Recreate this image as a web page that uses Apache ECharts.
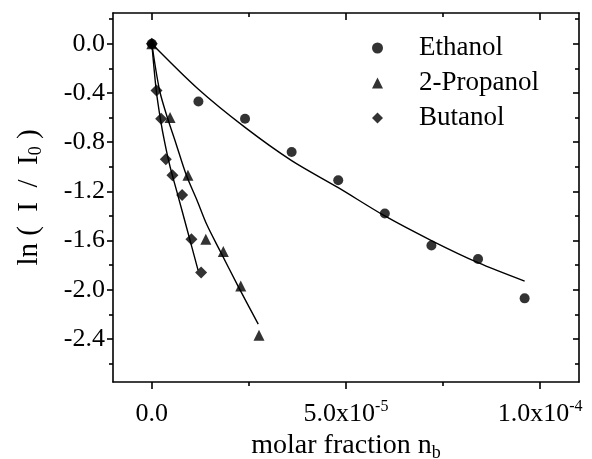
<!DOCTYPE html>
<html><head><meta charset="utf-8">
<script src="https://cdn.jsdelivr.net/npm/echarts@6/dist/echarts.min.js"></script>
<style>html,body{margin:0;padding:0;background:#fff}#c{width:592px;height:459px}</style>
</head><body><div id="c"></div>
<script>
// Measured points
const ethanolX = [0, 1.2e-5, 2.4e-5, 3.6e-5, 4.8e-5, 6.0e-5, 7.2e-5, 8.4e-5, 9.6e-5];
const ethanolY = [0, -0.47, -0.61, -0.88, -1.11, -1.38, -1.64, -1.75, -2.07];
const propanolX = [0, 4.7e-6, 9.3e-6, 1.39e-5, 1.84e-5, 2.29e-5, 2.76e-5];
const propanolY = [0, -0.60, -1.07, -1.59, -1.69, -1.97, -2.37];
const butanolX = [0, 1.2e-6, 2.4e-6, 3.6e-6, 5.3e-6, 7.8e-6, 1.02e-5, 1.27e-5];
const butanolY = [0, -0.38, -0.61, -0.94, -1.07, -1.23, -1.59, -1.86];
// Fit curves
const ethanolFitX = [0, 1.2e-5, 2.4e-5, 3.6e-5, 4.8e-5, 6.0e-5, 7.2e-5, 8.4e-5, 9.6e-5];
const ethanolFitY = [0, -0.37, -0.68, -0.95, -1.17, -1.40, -1.60, -1.78, -1.93];
const propanolFitX = [0, 2.0e-6, 4.1e-6, 5.9e-6, 8.9e-6, 1.16e-5, 1.415e-5, 1.75e-5, 2.22e-5, 2.74e-5];
const propanolFitY = [0, -0.38, -0.61, -0.78, -1.07, -1.27, -1.47, -1.68, -1.97, -2.28];
const butanolFitX = [0, 1.14e-6, 2.2e-6, 3.3e-6, 4.7e-6, 6.6e-6, 9.0e-6, 1.19e-5];
const butanolFitY = [0, -0.38, -0.61, -0.80, -1.00, -1.22, -1.50, -1.84];
// Ticks
const xMajorTicks = [0, 5e-5, 1e-4];
const xMajorLabels = ['{m|0.0}', '{m|5.0x10}{s|-5}', '{m|1.0x10}{s|-4}'];
const xMinorTicks = [2.5e-5, 7.5e-5];
const yMajorTicks = [0, -0.4, -0.8, -1.2, -1.6, -2.0, -2.4];
const yMajorLabels = ['0.0', '-0.4', '-0.8', '-1.2', '-1.6', '-2.0', '-2.4'];
const yMinorTicks = [0.2, -0.2, -0.6, -1.0, -1.4, -1.8, -2.2, -2.6];
const seriesNames = ['Ethanol', '2-Propanol', 'Butanol'];

const FONT = 'Liberation Serif';
const X_MIN = -1e-5, X_MAX = 1.1e-4, Y_MIN = -2.75, Y_MAX = 0.25;
const zip = (a, b) => a.map((v, i) => [v, b[i]]);
const nearestIdx = (arr, v) => { let bi = 0; arr.forEach((t, i) => { if (Math.abs(t - v) < Math.abs(arr[bi] - v)) bi = i; }); return bi; };
const lineCol = '#000';

function xAxisDef(pos, major) {
  return {
    type: 'value', position: pos, min: X_MIN, max: X_MAX,
    axisLine: { show: major, onZero: false, lineStyle: { color: lineCol, width: 1.6 } },
    axisTick: { show: true, inside: pos === 'top', length: major ? 7 : 4,
      customValues: major ? xMajorTicks : xMinorTicks, lineStyle: { color: lineCol, width: 1.6 } },
    axisLabel: { show: major && pos === 'bottom', customValues: xMajorTicks, margin: 17,
      formatter: v => xMajorLabels[nearestIdx(xMajorTicks, v)],
      rich: { m: { fontFamily: FONT, fontSize: 26, color: '#000', lineHeight: 30 },
              s: { fontFamily: FONT, fontSize: 16, color: '#000', verticalAlign: 'top', lineHeight: 30, padding: [0, 0, 12, 0] } } },
    splitLine: { show: false }
  };
}
function yAxisDef(pos, major) {
  return {
    type: 'value', position: pos, min: Y_MIN, max: Y_MAX,
    axisLine: { show: major, onZero: false, lineStyle: { color: lineCol, width: 1.6 } },
    axisTick: { show: true, inside: pos === 'right', length: major ? 6 : 4,
      customValues: major ? yMajorTicks : yMinorTicks, lineStyle: { color: lineCol, width: 1.6 } },
    axisLabel: { show: major && pos === 'left', customValues: yMajorTicks, margin: 8,
      fontFamily: FONT, fontSize: 26, color: '#000',
      formatter: v => yMajorLabels[nearestIdx(yMajorTicks, v)] },
    splitLine: { show: false }
  };
}

const xAxes = [xAxisDef('bottom', true), xAxisDef('bottom', false), xAxisDef('top', true), xAxisDef('top', false)];
xAxes[0].name = 'molar fraction n{s|b}';
xAxes[0].nameLocation = 'middle';
xAxes[0].nameGap = 43;
xAxes[0].nameTextStyle = { fontFamily: FONT, fontSize: 28, color: '#000',
  rich: { s: { fontFamily: FONT, fontSize: 18, color: '#000', padding: [14, 0, 0, 0] } } };
const yAxes = [yAxisDef('left', true), yAxisDef('left', false), yAxisDef('right', true), yAxisDef('right', false)];
yAxes[0].name = 'ln (  I  /  I{s|0} )';
yAxes[0].nameLocation = 'middle';
yAxes[0].nameGap = 68;
yAxes[0].nameRotate = 90;
yAxes[0].nameTextStyle = { fontFamily: FONT, fontSize: 29, color: '#000',
  rich: { s: { fontFamily: FONT, fontSize: 18, color: '#000', padding: [14, 0, 0, 0] } } };

const markerDefs = [
  { name: seriesNames[0], symbol: 'circle', size: 10, data: zip(ethanolX, ethanolY) },
  { name: seriesNames[1], symbol: 'triangle', size: 11, data: zip(propanolX, propanolY) },
  { name: seriesNames[2], symbol: 'diamond', size: 12, data: zip(butanolX, butanolY) }
];
const fits = [zip(ethanolFitX, ethanolFitY), zip(propanolFitX, propanolFitY), zip(butanolFitX, butanolFitY)];

const series = [];
fits.forEach((d, i) => series.push({
  type: 'line', name: 'fit' + i, data: d, showSymbol: false, smooth: 0.3, silent: true,
  lineStyle: { color: '#000', width: 1.4 }, z: 2
}));
markerDefs.forEach(m => series.push({
  type: 'scatter', name: m.name, data: m.data, symbol: m.symbol, symbolSize: m.size,
  itemStyle: { color: '#000' }, z: 3
}));

const chart = echarts.init(document.getElementById('c'), null, { renderer: 'canvas' });
chart.setOption({
  animation: false,
  backgroundColor: '#fff',
  grid: { left: 113, right: 13, top: 13, bottom: 77, containLabel: false, outerBoundsMode: 'none' },
  xAxis: xAxes,
  yAxis: yAxes,
  legend: {
    orient: 'vertical', left: 367, top: 29, itemWidth: 11, itemHeight: 11, itemGap: 7,
    data: [{ name: seriesNames[0], icon: 'circle' }, { name: seriesNames[1], icon: 'triangle' }, { name: seriesNames[2], icon: 'diamond' }],
    textStyle: { fontFamily: FONT, fontSize: 27, color: '#000', lineHeight: 28, padding: [0, 0, 0, 31] },
    itemStyle: { color: '#000' }
  },
  series: series
});
</script></body></html>
